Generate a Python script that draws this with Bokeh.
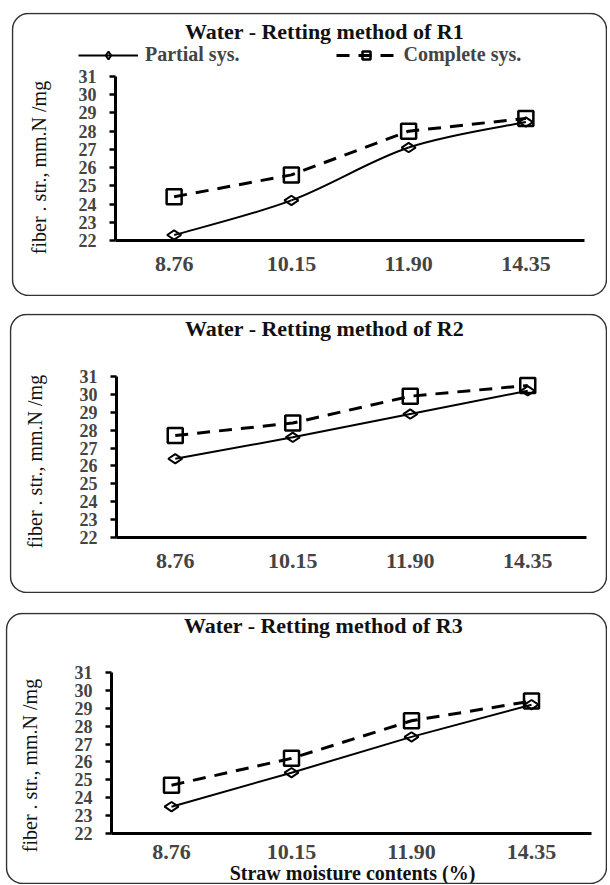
from bokeh.plotting import figure
from bokeh.models import (Legend, LegendItem, Range1d, FixedTicker, LinearAxis,
                          BoxAnnotation, Label)
from bokeh.layouts import column
from bokeh.embed import file_html
from bokeh.resources import INLINE
import math

categories = ["8.76", "10.15", "11.90", "14.35"]
y_ticks = [22, 23, 24, 25, 26, 27, 28, 29, 30, 31]

r1_partial = [22.3, 24.2, 27.1, 28.5]
r1_complete = [24.4, 25.6, 28.0, 28.7]
r2_partial = [26.4, 27.6, 28.9, 30.2]
r2_complete = [27.7, 28.4, 29.9, 30.5]
r3_partial = [23.5, 25.4, 27.4, 29.2]
r3_complete = [24.7, 26.2, 28.3, 29.4]

titles = ["Water - Retting method of R1", "Water - Retting method of R2", "Water - Retting method of R3"]
legend_labels = ["Partial sys.", "Complete sys."]
y_label = "fiber . str., mm.N /mg"
x_label = "Straw moisture contents (%)"

SERIF = "Liberation Serif"
Y_MIN, Y_MAX = 22, 31
NCAT = len(categories)
xpos = [i + 0.5 for i in range(NCAT)]


def smooth(xs, ys):
    # cubic Bezier segments (Catmull-Rom) through the data points
    n = len(xs)
    seg = dict(x0=[], y0=[], x1=[], y1=[], cx0=[], cy0=[], cx1=[], cy1=[])
    for i in range(n - 1):
        a = max(i - 1, 0)
        d = min(i + 2, n - 1)
        seg["x0"].append(xs[i]); seg["y0"].append(ys[i])
        seg["x1"].append(xs[i + 1]); seg["y1"].append(ys[i + 1])
        seg["cx0"].append(xs[i] + (xs[i + 1] - xs[a]) / 6)
        seg["cy0"].append(ys[i] + (ys[i + 1] - ys[a]) / 6)
        seg["cx1"].append(xs[i + 1] - (xs[d] - xs[i]) / 6)
        seg["cy1"].append(ys[i + 1] - (ys[d] - ys[i]) / 6)
    return seg


def make_panel(idx, partial, complete, curved, show_legend, show_xlabel, box, axes_px, texts):
    # box: panel (x0, y0, x1, y1) on the page; axes_px: (y-axis x, x-axis end x, y of 31, y of 22) on the page
    bx0, by0, bx1, by1 = box
    w, h = bx1 - bx0, by1 - by0
    ax0, ax1, y31, y22 = (axes_px[0] - bx0, axes_px[1] - bx0, axes_px[2] - by0, axes_px[3] - by0)
    ux = (ax1 - ax0) / NCAT
    uy = (y22 - y31) / (Y_MAX - Y_MIN)
    x_range = Range1d(-ax0 / ux, NCAT + (w - ax1) / ux)
    y_range = Range1d(Y_MIN - (h - y22) / uy, Y_MAX + y31 / uy)

    p = figure(x_range=x_range, y_range=y_range, width=w, height=h, title=None,
               margin=(texts["mtop"], 0, 0, bx0),
               output_backend="svg", toolbar_location=None,
               x_axis_location=None, y_axis_location=None,
               min_border=0, min_border_left=0, min_border_right=0, min_border_top=0, min_border_bottom=0,
               background_fill_color="white", border_fill_color="white")
    p.outline_line_color = None
    p.xgrid.grid_line_color = None
    p.ygrid.grid_line_color = None

    def scr(px, py):
        return px - bx0, h - (py - by0)

    # rounded panel border
    p.add_layout(BoxAnnotation(left=1, right=w - 1, bottom=1, top=h - 1,
                               left_units="screen", right_units="screen",
                               top_units="screen", bottom_units="screen",
                               fill_alpha=0, line_color="#333333", line_width=1.5,
                               line_alpha=1, line_dash="solid", border_radius=16, level="overlay"))

    # axes
    yax = LinearAxis(fixed_location=0, ticker=FixedTicker(ticks=y_ticks), bounds=(Y_MIN, Y_MAX),
                     axis_line_width=3, major_tick_line_width=2.5, major_tick_out=6, major_tick_in=0,
                     minor_tick_line_color=None,
                     major_label_text_font=SERIF, major_label_text_font_style="bold",
                     major_label_text_font_size="18px", major_label_standoff=13)
    p.add_layout(yax, "left")
    xax = LinearAxis(fixed_location=Y_MIN, ticker=FixedTicker(ticks=xpos), bounds=(0, NCAT),
                     major_label_overrides={x: c for x, c in zip(xpos, categories)},
                     axis_line_width=3, major_tick_line_color=None, minor_tick_line_color=None,
                     major_label_text_font=SERIF, major_label_text_font_style="bold",
                     major_label_text_font_size="22px", major_label_standoff=texts["xstand"])
    p.add_layout(xax, "below")

    # series
    cr_line = p.line(xpos, complete, line_color="black", line_width=3, line_dash="13 9")
    cr_mark = p.scatter(xpos, complete, marker="square", size=15,
                        fill_alpha=0, line_color="black", line_width=2.5)
    if curved:
        pr_line = p.bezier(line_color="black", line_width=2, **smooth(xpos, partial))
    else:
        pr_line = p.line(xpos, partial, line_color="black", line_width=2)
    pr_mark = p.scatter(xpos, partial, marker="diamond", angle=math.pi / 2, size=14,
                        fill_alpha=0, line_color="black", line_width=2)

    # title
    tx, ty = scr(*texts["title"])
    p.add_layout(Label(x=tx, y=ty, x_units="screen", y_units="screen", text=titles[idx],
                       text_align="center", text_baseline="middle", text_font=SERIF,
                       text_font_style="bold", text_font_size="22px", text_color="#111111"))
    # y-axis label
    lx, ly = scr(*texts["ylab"])
    p.add_layout(Label(x=lx, y=ly, x_units="screen", y_units="screen", text=y_label, angle=math.pi / 2,
                       text_align="center", text_baseline="middle", text_font=SERIF,
                       text_font_style="normal", text_font_size="20px", text_color="#111111"))
    if show_xlabel:
        qx, qy = scr(*texts["xlab"])
        p.add_layout(Label(x=qx, y=qy, x_units="screen", y_units="screen", text=x_label,
                           text_align="center", text_baseline="middle", text_font=SERIF,
                           text_font_style="bold", text_font_size="20px", text_color="#111111"))
    if show_legend:
        gx, gy = scr(*texts["legend"])
        lg = Legend(items=[LegendItem(label=legend_labels[0], renderers=[pr_line, pr_mark]),
                           LegendItem(label=legend_labels[1], renderers=[cr_line, cr_mark])],
                    orientation="horizontal", location=(gx, gy - 11), margin=0, padding=0,
                    spacing=97, glyph_width=60, glyph_height=20, label_height=20,
                    label_standoff=7, border_line_color=None, background_fill_alpha=0,
                    label_text_font=SERIF, label_text_font_style="bold", label_text_font_size="20px")
        p.add_layout(lg, "center")
    return p


p1 = make_panel(0, r1_partial, r1_complete, True, True, False,
                (11, 12, 607, 296), (115, 584, 76, 240),
                dict(mtop=12, title=(324, 31), ylab=(38, 167), legend=(78, 55), xstand=10))
p2 = make_panel(1, r2_partial, r2_complete, False, False, False,
                (9, 313, 607, 593), (116, 586, 376, 537),
                dict(mtop=17, title=(324, 328), ylab=(34, 461), xstand=10))
p3 = make_panel(2, r3_partial, r3_complete, False, False, True,
                (5, 612, 607, 884), (111, 591, 672, 833),
                dict(mtop=19, title=(323, 625), ylab=(29, 765), xlab=(352, 872), xstand=5))

layout = column(p1, p2, p3, spacing=0)
open("out.html", "w").write(file_html(layout, INLINE))
